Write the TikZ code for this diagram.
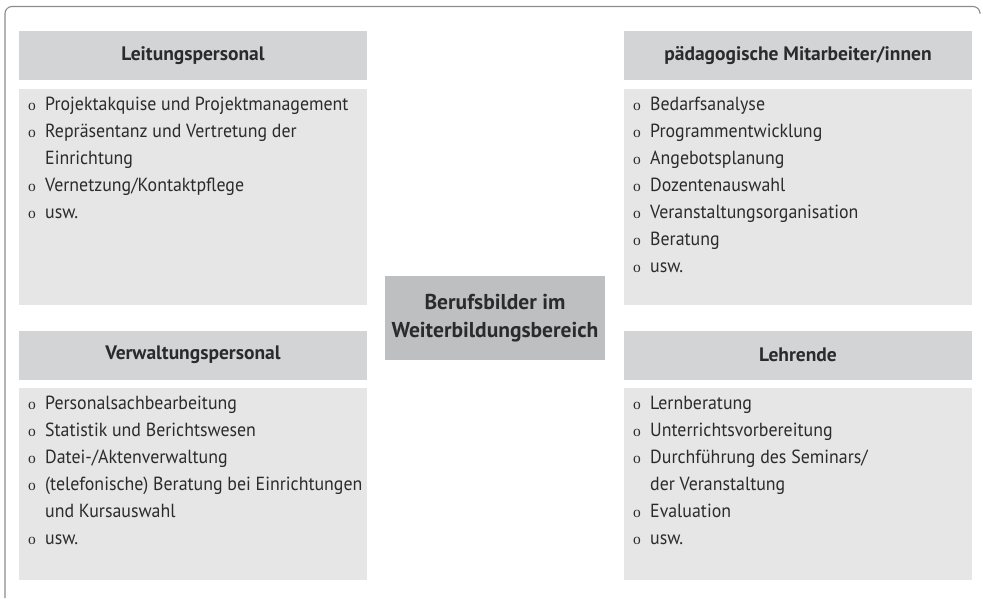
\documentclass[tikz,border=0pt]{standalone}
\usepackage{fontspec}
\setmainfont{PT Sans}
\newfontfamily\bodyfont[FakeStretch=0.94]{PT Sans}
\newfontfamily\bulfont{Liberation Serif}
\definecolor{hdrgray}{HTML}{D3D4D6}
\definecolor{bodygray}{HTML}{E6E6E6}
\definecolor{centgray}{HTML}{BEBFC1}
\definecolor{framegray}{HTML}{8C8C8C}
\definecolor{txt}{HTML}{2B2B2B}
\newcommand\bul{\makebox[17pt][l]{\bulfont\fontsize{15.5}{15.5}\selectfont o}}
\tikzset{
  hdr/.style={fill=hdrgray, minimum width=348pt, minimum height=49pt, inner sep=0pt,
    font=\fontsize{19.5}{27}\selectfont\bfseries, text=txt},
  bodybox/.style={fill=bodygray, minimum width=348pt, inner sep=0pt},
  li/.style={anchor=base west, inner sep=0pt, font=\bodyfont\fontsize{19}{27}\selectfont, text=txt},
  centbox/.style={fill=centgray, minimum width=220pt, minimum height=84pt, inner sep=0pt,
    align=center, font=\fontsize{21.5}{28}\selectfont\bfseries, text=txt},
}
\begin{document}
\begin{tikzpicture}[x=1pt,y=-1pt]
\useasboundingbox (0,0) rectangle (983,598);
\draw[framegray, line width=1.1pt, rounded corners=7pt] (5,598) -- (5,6.5) -- (980,6.5) -- (980,12);

% top left
\node[hdr] (lh) at (193,55.5) {Leitungspersonal};
\node[bodybox, minimum height=216pt] (lb) at (193,197) {};
\node[li] (l1) at (28,110) {\bul Projektakquise und Projektmanagement};
\node[li] (l2) at (28,137) {\bul Repräsentanz und Vertretung der};
\node[li] (l3) at (45,164) {Einrichtung};
\node[li] (l4) at (28,191) {\bul Vernetzung/Kontaktpflege};
\node[li] (l5) at (28,218) {\bul usw.};

% top right
\node[hdr] (ph) at (798,55.5) {pädagogische Mitarbeiter/innen};
\node[bodybox, minimum height=216pt] (pb) at (798,197) {};
\node[li] (p1) at (633,110) {\bul Bedarfsanalyse};
\node[li] (p2) at (633,137) {\bul Programmentwicklung};
\node[li] (p3) at (633,164) {\bul Angebotsplanung};
\node[li] (p4) at (633,191) {\bul Dozentenauswahl};
\node[li] (p5) at (633,218) {\bul Veranstaltungsorganisation};
\node[li] (p6) at (633,245) {\bul Beratung};
\node[li] (p7) at (633,272) {\bul usw.};

% bottom left
\node[hdr] (vh) at (193,355) {Verwaltungspersonal};
\node[bodybox, minimum height=192pt] (vb) at (193,484) {};
\node[li] (v1) at (28,409) {\bul Personalsachbearbeitung};
\node[li] (v2) at (28,436) {\bul Statistik und Berichtswesen};
\node[li] (v3) at (28,463) {\bul Datei-/Aktenverwaltung};
\node[li] (v4) at (28,490) {\bul (telefonische) Beratung bei Einrichtungen};
\node[li] (v5) at (45,517) {und Kursauswahl};
\node[li] (v6) at (28,544) {\bul usw.};

% bottom right
\node[hdr] (eh) at (798,355) {Lehrende};
\node[bodybox, minimum height=192pt] (eb) at (798,484) {};
\node[li] (e1) at (633,409) {\bul Lernberatung};
\node[li] (e2) at (633,436) {\bul Unterrichtsvorbereitung};
\node[li] (e3) at (633,463) {\bul Durchführung des Seminars/};
\node[li] (e4) at (650,490) {der Veranstaltung};
\node[li] (e5) at (633,517) {\bul Evaluation};
\node[li] (e6) at (633,544) {\bul usw.};

% center
\node[centbox] (c) at (495,318) {Berufsbilder im\\Weiterbildungsbereich};
\end{tikzpicture}
\end{document}
